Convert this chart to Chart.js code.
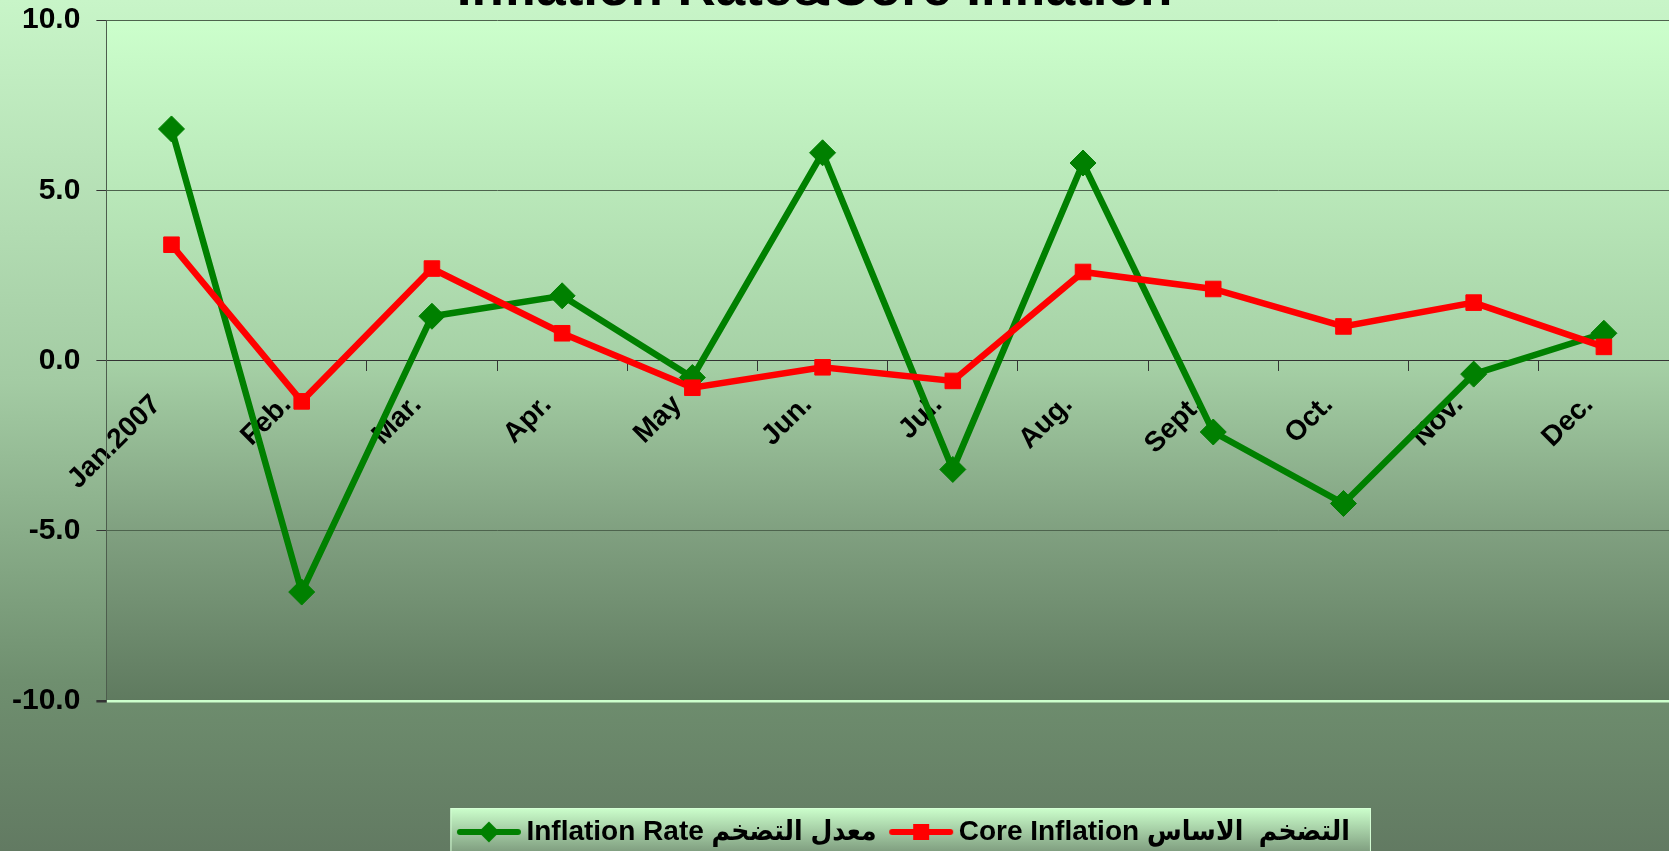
<!DOCTYPE html>
<html>
<head>
<meta charset="utf-8">
<title>Inflation Rate&amp;Core Inflation</title>
<script src="https://cdn.jsdelivr.net/npm/chart.js@4.4.1/dist/chart.umd.min.js"></script>
<style>
  html, body { margin: 0; padding: 0; background: #8fb08f; }
  body { width: 1669px; height: 851px; overflow: hidden; }
</style>
</head>
<body>
<canvas id="chart" width="1669" height="851"></canvas>
<script>
// Monthly inflation, 2007 (%)
const months = ['Jan.2007', 'Feb.', 'Mar.', 'Apr.', 'May', 'Jun.', 'Jul.', 'Aug.', 'Sept.', 'Oct.', 'Nov.', 'Dec.'];
const inflationRate = [6.8, -6.8, 1.3, 1.9, -0.5, 6.1, -3.2, 5.8, -2.1, -4.2, -0.4, 0.8];
const coreInflation = [3.4, -1.2, 2.7, 0.8, -0.8, -0.2, -0.6, 2.6, 2.1, 1.0, 1.7, 0.4];
const seriesNames = ['Inflation Rate معدل التضخم', 'Core Inflation التضخم  الاساس'];
const chartTitle = 'Inflation Rate&Core Inflation';

const FONT = "'Liberation Sans', Arial, 'DejaVu Sans Condensed', 'DejaVu Sans', sans-serif";
const GREEN = '#008000';
const RED = '#ff0000';

// legend marker: line with the series' point on it
function legendMarker(color, shape) {
  const c = document.createElement('canvas');
  c.width = 66;
  c.height = 24;
  const g = c.getContext('2d');
  g.strokeStyle = color;
  g.fillStyle = color;
  g.lineWidth = 6;
  g.lineCap = 'round';
  g.beginPath();
  g.moveTo(4, 12);
  g.lineTo(62, 12);
  g.stroke();
  g.beginPath();
  if (shape === 'diamond') {
    g.moveTo(33, 1.5);
    g.lineTo(43.5, 12);
    g.lineTo(33, 22.5);
    g.lineTo(22.5, 12);
    g.closePath();
  } else {
    g.rect(25, 4, 16, 16);
  }
  g.fill();
  return c;
}
const markers = [legendMarker(GREEN, 'diamond'), legendMarker(RED, 'square')];

// gradients for page, plot area and legend box
const backgroundPlugin = {
  id: 'background',
  afterLayout(chart) {
    // the original legend sits a little right of the plot centre
    if (chart.legend) {
      chart.legend.left += 20;
      chart.legend.right += 20;
    }
  },
  beforeDraw(chart) {
    const { ctx, chartArea: a, width, height } = chart;
    ctx.save();

    let g = ctx.createLinearGradient(0, 0, 0, height);
    g.addColorStop(0, '#c8f5c8');
    g.addColorStop(0.45, '#a3cba3');
    g.addColorStop(0.8, '#6f8f6f');
    g.addColorStop(1, '#627a62');
    ctx.fillStyle = g;
    ctx.fillRect(0, 0, width, height);

    g = ctx.createLinearGradient(0, a.top, 0, a.bottom);
    g.addColorStop(0, '#ccffcc');
    g.addColorStop(0.5, '#a6d1a6');
    g.addColorStop(0.75, '#80a080');
    g.addColorStop(1, '#5f7a5f');
    ctx.fillStyle = g;
    ctx.fillRect(a.left, a.top, a.right - a.left, a.bottom - a.top);

    const hb = chart.legend && chart.legend.legendHitBoxes;
    if (hb && hb.length) {
      const last = hb[hb.length - 1];
      const x0 = hb[0].left - 15;
      const x1 = last.left + last.width + 21;
      const y0 = hb[0].top - 10;
      const y1 = height + 4;
      g = ctx.createLinearGradient(0, y0, 0, y1);
      g.addColorStop(0, '#ccffcc');
      g.addColorStop(1, '#7a977a');
      ctx.fillStyle = g;
      ctx.fillRect(x0, y0, x1 - x0, y1 - y0);
      ctx.strokeStyle = '#d6ffd6';
      ctx.lineWidth = 1;
      ctx.strokeRect(x0 + 0.5, y0 + 0.5, x1 - x0 - 1, y1 - y0);
    }
    ctx.restore();
  }
};

// title sits mostly above the top edge, as in the original
const titlePlugin = {
  id: 'clippedTitle',
  afterDraw(chart) {
    const ctx = chart.ctx;
    ctx.save();
    ctx.font = 'bold 53px ' + FONT;
    ctx.fillStyle = '#000';
    ctx.textAlign = 'center';
    ctx.textBaseline = 'alphabetic';
    ctx.fillText(chartTitle, chart.width / 2 - 20, 5);
    ctx.restore();
  }
};

new Chart(document.getElementById('chart'), {
  type: 'line',
  plugins: [backgroundPlugin, titlePlugin],
  data: {
    labels: months,
    datasets: [
      {
        label: seriesNames[0],
        data: inflationRate,
        borderColor: GREEN,
        backgroundColor: GREEN,
        borderWidth: 6.5,
        pointStyle: 'rectRot',
        pointRadius: 13,
        pointBorderWidth: 1,
        tension: 0,
        order: 1
      },
      {
        label: seriesNames[1],
        data: coreInflation,
        borderColor: RED,
        backgroundColor: RED,
        borderWidth: 6.5,
        pointStyle: 'rect',
        pointRadius: 11,
        pointBorderWidth: 1,
        tension: 0,
        order: 0
      }
    ]
  },
  options: {
    responsive: false,
    animation: false,
    devicePixelRatio: 1,
    layout: { autoPadding: false, padding: { left: -4, top: 20, right: 0, bottom: -5 } },
    plugins: {
      title: { display: false },
      tooltip: { enabled: false },
      legend: {
        display: true,
        position: 'bottom',
        fullSize: false,
        title: { display: true, text: '', font: { size: 10 }, padding: { top: 84, bottom: 0 } },
        labels: {
          usePointStyle: true,
          pointStyleWidth: 47,
          padding: 21,
          color: '#000',
          font: { family: FONT, size: 28, weight: 'bold' },
          sort: (a, b) => a.datasetIndex - b.datasetIndex,
          generateLabels(chart) {
            const items = Chart.defaults.plugins.legend.labels.generateLabels(chart);
            items.forEach(it => { it.pointStyle = markers[it.datasetIndex]; });
            return items;
          }
        }
      }
    },
    scales: {
      x: {
        type: 'category',
        position: { y: 0 },
        offset: true,
        grid: { offset: true, drawOnChartArea: false, tickLength: 10, color: '#333' },
        border: { color: '#333', width: 1 },
        ticks: {
          autoSkip: false,
          minRotation: 45,
          maxRotation: 45,
          padding: 18,
          labelOffset: -15,
          color: '#000',
          font: { family: FONT, size: 28, weight: 'bold' }
        }
      },
      y: {
        min: -10,
        max: 10,
        ticks: {
          stepSize: 5,
          padding: 16,
          color: '#000',
          font: { family: FONT, size: 30, weight: 'bold', lineHeight: 0.2 },
          callback: v => v.toFixed(1)
        },
        grid: {
          color: c => c.tick.value === -10 ? '#ccffcc' : (c.tick.value === 0 ? '#333' : '#4d634d'),
          lineWidth: c => c.tick.value === -10 ? 2.5 : 1,
          tickLength: 10,
          tickColor: '#333'
        },
        border: { color: '#4d5d4d', width: 1 }
      }
    }
  }
});
</script>
</body>
</html>
